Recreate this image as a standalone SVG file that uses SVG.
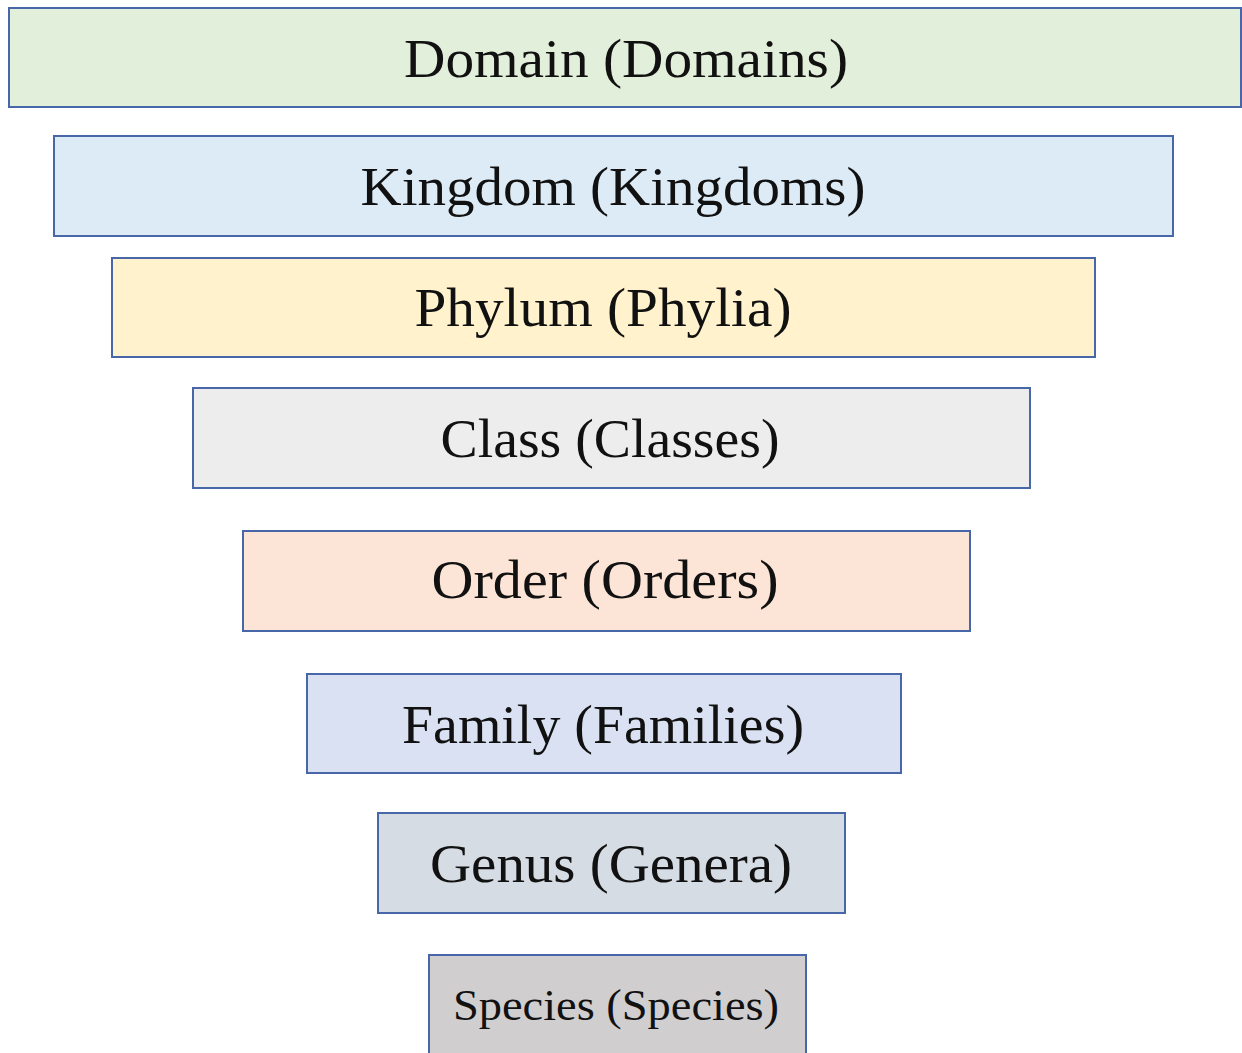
<svg xmlns="http://www.w3.org/2000/svg" width="1242" height="1053" viewBox="0 0 1242 1053">
  <style>
    .box { stroke: #4767a8; stroke-width: 2; }
    .lbl { font-family: "Liberation Serif", "DejaVu Serif", serif; font-size: 54px; fill: #111; text-anchor: middle; }
    .sm { font-size: 44px; }
  </style>
  <rect width="1242" height="1053" fill="#ffffff"/>
  <g id="domain">
    <rect class="box" x="9" y="8" width="1232" height="99" fill="#e2efda"/>
    <text class="lbl" x="626" y="77" textLength="444" lengthAdjust="spacingAndGlyphs">Domain (Domains)</text>
  </g>
  <g id="kingdom">
    <rect class="box" x="54" y="136" width="1119" height="100" fill="#ddebf7"/>
    <text class="lbl" x="613" y="205" textLength="505" lengthAdjust="spacingAndGlyphs">Kingdom (Kingdoms)</text>
  </g>
  <g id="phylum">
    <rect class="box" x="112" y="258" width="983" height="99" fill="#fff2cc"/>
    <text class="lbl" x="603" y="326" textLength="377" lengthAdjust="spacingAndGlyphs">Phylum (Phylia)</text>
  </g>
  <g id="class">
    <rect class="box" x="193" y="388" width="837" height="100" fill="#ededed"/>
    <text class="lbl" x="610" y="457" textLength="339" lengthAdjust="spacingAndGlyphs">Class (Classes)</text>
  </g>
  <g id="order">
    <rect class="box" x="243" y="531" width="727" height="100" fill="#fce4d6"/>
    <text class="lbl" x="605" y="598" textLength="347" lengthAdjust="spacingAndGlyphs">Order (Orders)</text>
  </g>
  <g id="family">
    <rect class="box" x="307" y="674" width="594" height="99" fill="#d9e1f2"/>
    <text class="lbl" x="603" y="743" textLength="402" lengthAdjust="spacingAndGlyphs">Family (Families)</text>
  </g>
  <g id="genus">
    <rect class="box" x="378" y="813" width="467" height="100" fill="#d6dce4"/>
    <text class="lbl" x="611" y="882" textLength="362" lengthAdjust="spacingAndGlyphs">Genus (Genera)</text>
  </g>
  <g id="species">
    <rect class="box" x="429" y="955" width="377" height="110" fill="#d0cece"/>
    <text class="lbl sm" x="616" y="1020" textLength="326" lengthAdjust="spacingAndGlyphs">Species (Species)</text>
  </g>
  <g id="connectors"/>
</svg>
